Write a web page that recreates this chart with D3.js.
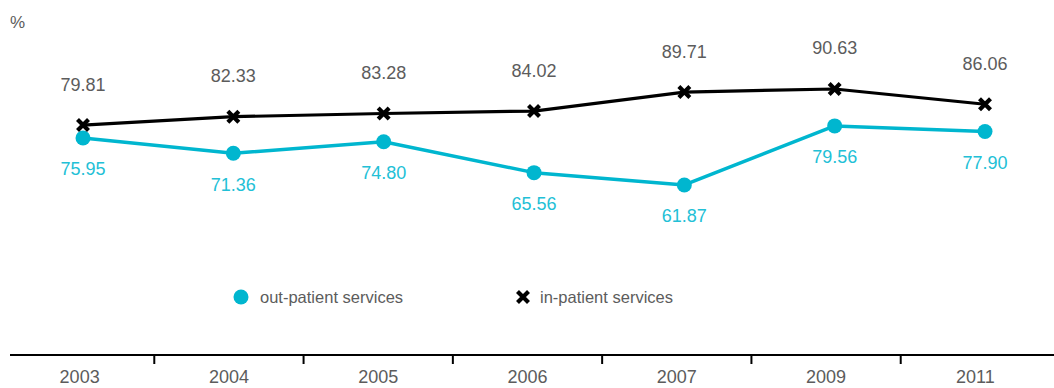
<!DOCTYPE html>
<html>
<head>
<meta charset="utf-8">
<script src="https://cdn.jsdelivr.net/npm/d3@7"></script>
<style>
  html, body { margin: 0; padding: 0; background: #fff; }
  svg { display: block; font-family: "Liberation Sans", Arial, sans-serif; }
</style>
</head>
<body>
<svg id="chart" width="1054" height="388"></svg>
<script>
// Years shown on the axis
const years = ["2003", "2004", "2005", "2006", "2007", "2009", "2011"];
// Satisfaction rates, %
const outPatient = [75.95, 71.36, 74.80, 65.56, 61.87, 79.56, 77.90];
const inPatient  = [79.81, 82.33, 83.28, 84.02, 89.71, 90.63, 86.06];
const seriesNames = ["out-patient services", "in-patient services"];

const W = 1054, H = 388;
const CYAN = "#00b6cf", CYAN_TEXT = "#22c0d6", INK = "#000", GREY = "#5c5c5c";

const svg = d3.select("#chart");

// Horizontal: marks sit on a point scale, the axis uses bands with ticks on boundaries
const xPoint = d3.scalePoint().domain(years).range([83, 985]);
const xBand = d3.scaleBand().domain(years).range([5, 1050]).paddingInner(0).paddingOuter(0);

// Vertical value scale
const y = d3.scaleLinear().domain([60, 95]).range([191.2, 74.4]);

// "%" unit label
svg.append("text")
  .attr("x", 10).attr("y", 28)
  .attr("font-size", 17).attr("fill", GREY)
  .text("%");

// Bottom axis
const axisY = 355;
const axisG = svg.append("g").attr("transform", `translate(0,${axisY})`);
axisG.append("line")
  .attr("x1", 10).attr("x2", W).attr("y1", 0).attr("y2", 0)
  .attr("stroke", INK).attr("stroke-width", 2);
axisG.selectAll("line.tick")
  .data(years.slice(1))
  .join("line")
  .attr("class", "tick")
  .attr("x1", d => xBand(d)).attr("x2", d => xBand(d))
  .attr("y1", 0).attr("y2", 9)
  .attr("stroke", INK).attr("stroke-width", 2);
axisG.selectAll("text.year")
  .data(years)
  .join("text")
  .attr("class", "year")
  .attr("x", d => xBand(d) + xBand.bandwidth() / 2)
  .attr("y", 28)
  .attr("text-anchor", "middle")
  .attr("font-size", 18).attr("fill", GREY)
  .text(d => d);

// Lines
const outData = years.map((yr, i) => ({ yr, v: outPatient[i] }));
const inData = years.map((yr, i) => ({ yr, v: inPatient[i] }));
const line = d3.line().x(d => xPoint(d.yr)).y(d => y(d.v));

svg.append("path").datum(outData)
  .attr("d", line).attr("fill", "none")
  .attr("stroke", CYAN).attr("stroke-width", 3.5).attr("stroke-linejoin", "round");
svg.append("path").datum(inData)
  .attr("d", line).attr("fill", "none")
  .attr("stroke", INK).attr("stroke-width", 3.2).attr("stroke-linejoin", "round");

// Cross marker path centred at 0,0
function crossPath(s) {
  return `M${-s},${-s}L${s},${s}M${-s},${s}L${s},${-s}`;
}

// Out-patient markers + labels
svg.selectAll("circle.out")
  .data(outData).join("circle")
  .attr("class", "out")
  .attr("cx", d => xPoint(d.yr)).attr("cy", d => y(d.v))
  .attr("r", 7.5).attr("fill", CYAN);
svg.selectAll("text.outLbl")
  .data(outData).join("text")
  .attr("class", "outLbl")
  .attr("x", d => xPoint(d.yr)).attr("y", d => y(d.v) + 37.5)
  .attr("text-anchor", "middle")
  .attr("font-size", 18).attr("fill", CYAN_TEXT)
  .text(d => d.v.toFixed(2));

// In-patient markers + labels
svg.selectAll("path.in")
  .data(inData).join("path")
  .attr("class", "in")
  .attr("transform", d => `translate(${xPoint(d.yr)},${y(d.v)})`)
  .attr("d", crossPath(5.5))
  .attr("stroke", INK).attr("stroke-width", 4.2).attr("fill", "none");
svg.selectAll("text.inLbl")
  .data(inData).join("text")
  .attr("class", "inLbl")
  .attr("x", d => xPoint(d.yr)).attr("y", d => y(d.v) - 34.5)
  .attr("text-anchor", "middle")
  .attr("font-size", 18).attr("fill", GREY)
  .text(d => d.v.toFixed(2));

// Legend
const legY = 297;
svg.append("circle").attr("cx", 241).attr("cy", legY).attr("r", 7.5).attr("fill", CYAN);
svg.append("text").attr("x", 260).attr("y", legY + 5.5)
  .attr("font-size", 16.5).attr("fill", GREY).text(seriesNames[0]);
svg.append("path")
  .attr("transform", `translate(523,${legY})`)
  .attr("d", crossPath(5.5))
  .attr("stroke", INK).attr("stroke-width", 4.2).attr("fill", "none");
svg.append("text").attr("x", 540).attr("y", legY + 5.5)
  .attr("font-size", 16.5).attr("fill", GREY).text(seriesNames[1]);
</script>
</body>
</html>
